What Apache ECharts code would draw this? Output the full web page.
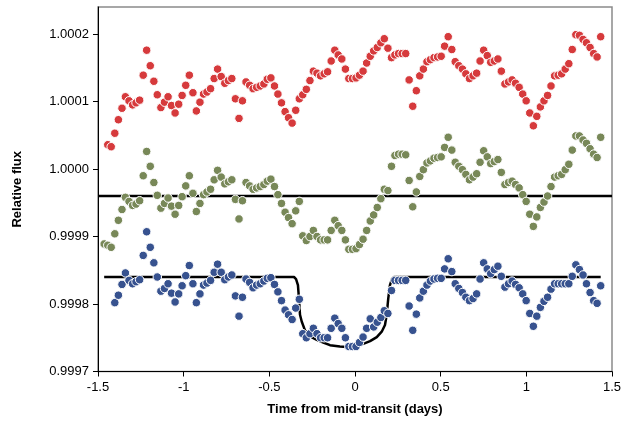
<!DOCTYPE html>
<html>
<head>
<meta charset="utf-8">
<script src="https://cdn.jsdelivr.net/npm/echarts@6/dist/echarts.min.js"></script>
<style>html,body{margin:0;padding:0;background:#fff}#c{width:635px;height:428px}</style>
</head>
<body>
<div id="c"></div>
<script>
// Time from mid-transit (days), one entry per cadence
var time = [-1.464,-1.443,-1.423,-1.402,-1.381,-1.360,-1.340,-1.319,-1.298,-1.278,
-1.257,-1.236,-1.216,-1.195,-1.174,-1.154,-1.133,-1.112,-1.091,-1.071,
-1.050,-1.029,-1.009,-0.988,-0.967,-0.946,-0.926,-0.905,-0.884,-0.864,
-0.843,-0.822,-0.802,-0.781,-0.760,-0.739,-0.719,-0.698,-0.677,-0.657,
-0.636,-0.615,-0.595,-0.574,-0.553,-0.532,-0.512,-0.491,-0.470,-0.450,
-0.429,-0.408,-0.388,-0.367,-0.346,-0.325,-0.305,-0.284,-0.263,-0.243,
-0.222,-0.201,-0.180,-0.160,-0.139,-0.118,-0.098,-0.077,-0.056,-0.036,
-0.015,0.006,0.026,0.047,0.068,0.089,0.109,0.130,0.151,0.171,
0.192,0.213,0.233,0.254,0.275,0.296,0.316,0.337,0.358,0.378,
0.399,0.420,0.440,0.461,0.482,0.503,0.523,0.544,0.565,0.585,
0.606,0.627,0.647,0.668,0.689,0.710,0.730,0.751,0.772,0.792,
0.813,0.834,0.854,0.875,0.896,0.917,0.937,0.958,0.979,0.999,
1.020,1.041,1.061,1.082,1.103,1.124,1.144,1.165,1.186,1.206,
1.227,1.248,1.268,1.289,1.310,1.331,1.351,1.372,1.393,1.413,
1.434];

var redFlux = [null,1.000036,1.000033,1.000053,1.000073,1.000090,1.000107,1.000101,1.000095,1.000098,
1.000102,1.000139,1.000176,1.000153,1.000130,1.000110,1.000091,1.000099,1.000107,1.000094,
1.000083,1.000096,1.000109,1.000124,1.000139,1.000113,1.000086,1.000099,1.000111,1.000114,
1.000119,1.000134,1.000148,1.000137,1.000127,1.000131,1.000134,1.000104,1.000075,1.000101,
1.000129,1.000124,1.000119,1.000121,1.000123,1.000126,1.000133,1.000135,1.000123,1.000111,
1.000098,1.000085,1.000076,1.000068,1.000087,1.000104,1.000110,1.000118,1.000131,1.000145,
1.000142,1.000138,1.000141,1.000144,1.000160,1.000176,1.000169,1.000163,1.000148,1.000134,
1.000134,1.000135,1.000139,1.000145,1.000157,1.000167,1.000175,1.000180,1.000187,1.000193,
1.000179,1.000165,1.000169,1.000171,1.000171,1.000171,1.000132,1.000093,1.000116,1.000138,
1.000148,1.000159,1.000162,1.000165,1.000166,1.000167,1.000182,1.000196,1.000177,1.000159,
1.000153,1.000148,1.000141,1.000134,1.000138,1.000142,1.000160,1.000176,1.000168,1.000158,
1.000160,1.000163,1.000145,1.000126,1.000129,1.000132,1.000127,1.000121,1.000111,1.000101,
1.000083,1.000064,1.000078,1.000092,1.000101,1.000109,1.000123,1.000138,1.000139,1.000141,
1.000148,1.000156,1.000177,1.000199,1.000198,1.000192,1.000187,1.000180,1.000171,1.000166,
1.000196];

var greenFlux = [0.999889,0.999887,0.999884,0.999904,0.999924,0.999940,0.999958,0.999952,0.999946,0.999948,
0.999953,0.999990,1.000026,1.000004,0.999980,0.999961,0.999942,0.999949,0.999957,0.999945,
0.999933,0.999946,0.999959,0.999975,0.999990,0.999964,0.999937,0.999949,0.999962,0.999966,
0.999970,0.999984,0.999998,0.999988,0.999978,0.999981,0.999984,0.999955,0.999926,0.999953,
0.999980,0.999975,0.999970,0.999972,0.999974,0.999977,0.999982,0.999985,0.999974,0.999962,
0.999949,0.999936,0.999928,0.999919,0.999938,0.999952,0.999901,0.999894,0.999900,0.999909,
0.999900,0.999895,0.999895,0.999895,0.999909,0.999924,0.999916,0.999909,0.999895,0.999881,
0.999881,0.999882,0.999888,0.999896,0.999909,0.999923,0.999932,0.999943,0.999956,0.999970,
0.999968,1.000004,1.000020,1.000022,1.000022,1.000021,0.999983,0.999944,0.999966,0.999989,
0.999999,1.000009,1.000012,1.000016,1.000017,1.000018,1.000032,1.000047,1.000028,1.000010,
1.000004,0.999999,0.999992,0.999984,0.999988,0.999993,1.000010,1.000027,1.000018,1.000008,
1.000011,1.000014,0.999995,0.999977,0.999980,0.999982,0.999977,0.999972,0.999962,0.999952,
0.999933,0.999915,0.999929,0.999943,0.999951,0.999960,0.999974,0.999988,0.999990,0.999992,
0.999999,1.000007,1.000028,1.000049,1.000049,1.000043,1.000038,1.000030,1.000022,1.000017,
1.000047];

var blueFlux = [null,null,null,0.999802,0.999813,0.999829,0.999846,0.999835,0.999830,0.999833,
0.999836,0.999872,0.999907,0.999884,0.999861,0.999840,0.999819,0.999823,0.999830,0.999816,
0.999803,0.999815,0.999827,0.999842,0.999857,0.999830,0.999802,0.999815,0.999828,0.999831,
0.999835,0.999847,0.999859,0.999847,0.999836,0.999840,0.999843,0.999812,0.999782,0.999810,
0.999837,0.999832,0.999824,0.999828,0.999830,0.999834,0.999838,0.999839,0.999829,0.999818,
0.999805,0.999791,0.999784,0.999777,0.999794,0.999807,0.999756,0.999750,0.999756,0.999764,
0.999756,0.999750,0.999750,0.999750,0.999764,0.999779,0.999771,0.999764,0.999750,0.999737,
0.999737,0.999737,0.999743,0.999751,0.999764,0.999778,0.999766,0.999773,0.999780,0.999790,
0.999786,0.999820,0.999835,0.999835,0.999835,0.999835,0.999797,0.999761,0.999785,0.999809,
0.999819,0.999828,0.999834,0.999837,0.999838,0.999838,0.999852,0.999867,0.999848,0.999830,
0.999823,0.999817,0.999810,0.999805,0.999808,0.999815,0.999837,0.999861,0.999852,0.999845,
0.999851,0.999856,0.999841,0.999825,0.999830,0.999834,0.999829,0.999824,0.999815,0.999805,
0.999786,0.999767,0.999782,0.999795,0.999804,0.999810,0.999822,0.999830,0.999830,0.999830,
0.999830,0.999830,0.999841,0.999858,0.999851,0.999843,0.999830,0.999817,0.999805,0.999801,
0.999827];

// Transit model drawn through the lower (blue) light curve
var modelTime = [-1.464,-0.356,-0.344,-0.333,-0.327,-0.321,-0.311,-0.292,-0.263,-0.223,-0.185,-0.146,-0.088,-0.029,0.010,0.048,0.088,0.127,0.156,0.175,0.185,0.194,0.204,0.216,0.228,1.434];
var modelFlux = [0.999840,0.999840,0.999837,0.999828,0.999808,0.999784,0.999774,0.999761,0.999752,0.999747,0.999743,0.999739,0.999737,0.999736,0.999738,0.999741,0.999745,0.999751,0.999759,0.999769,0.999784,0.999808,0.999828,0.999837,0.999840,0.999840];

// Flat reference level through the middle (green) light curve
var levelTime = [-1.5, 1.5];
var levelFlux = [0.99996, 0.99996];

var xTicks = [-1.5, -1, -0.5, 0, 0.5, 1, 1.5];
var yTicks = [0.9997, 0.9998, 0.9999, 1.0000, 1.0001, 1.0002];

function pairs(xs, ys) {
  var out = [];
  for (var i = 0; i < ys.length; i++) if (ys[i] !== null) out.push([xs[i], ys[i]]);
  return out;
}

var chart = echarts.init(document.getElementById('c'), null, {renderer: 'canvas'});
var FONT = 'Liberation Sans, Arial, sans-serif';
var mk = function (color) {
  return {color: color, borderColor: '#ffffff', borderWidth: 1, opacity: 1};
};
chart.setOption({
  animation: false,
  backgroundColor: '#ffffff',
  grid: {left: 98, right: 23, top: 7, bottom: 56.5, show: true, borderColor: '#8a8a8a', borderWidth: 1.5, backgroundColor: 'transparent'},
  xAxis: {
    type: 'value', min: -1.5, max: 1.5, interval: 0.5,
    name: 'Time from mid-transit (days)', nameLocation: 'middle', nameGap: 31,
    nameTextStyle: {fontFamily: FONT, fontSize: 13, fontWeight: 'bold', color: '#000'},
    axisLine: {show: true, onZero: false, lineStyle: {color: '#000', width: 1}},
    axisTick: {show: true, inside: false, length: 5, lineStyle: {color: '#000'}, customValues: xTicks},
    axisLabel: {fontFamily: FONT, fontSize: 13, color: '#000', margin: 9, customValues: xTicks,
      formatter: function (v) { return String(Math.round(v * 10) / 10); }},
    splitLine: {show: false}
  },
  yAxis: {
    type: 'value', min: 0.9997, max: 1.00024, interval: 0.0001,
    name: 'Relative flux', nameLocation: 'middle', nameGap: 74, nameRotate: 90,
    nameTextStyle: {fontFamily: FONT, fontSize: 13, fontWeight: 'bold', color: '#000'},
    axisLine: {show: true, onZero: false, lineStyle: {color: '#000', width: 1}},
    axisTick: {show: true, inside: false, length: 5, lineStyle: {color: '#000'}, customValues: yTicks},
    axisLabel: {fontFamily: FONT, fontSize: 13, color: '#000', margin: 9,
      customValues: yTicks,
      formatter: function (v) { return v.toFixed(4); }},
    splitLine: {show: false}
  },
  series: [
    {type: 'line', data: pairs(levelTime, levelFlux), symbol: 'none', z: 1,
     lineStyle: {color: '#000', width: 2.5}, silent: true},
    {type: 'line', data: pairs(modelTime, modelFlux), symbol: 'none', z: 1,
     lineStyle: {color: '#000', width: 2.5}, silent: true},
    {type: 'scatter', data: pairs(time, redFlux), symbol: 'circle', symbolSize: 8.5, z: 3, itemStyle: mk('#d63a3c')},
    {type: 'scatter', data: pairs(time, greenFlux), symbol: 'circle', symbolSize: 8.5, z: 3, itemStyle: mk('#788858')},
    {type: 'scatter', data: pairs(time, blueFlux), symbol: 'circle', symbolSize: 8.5, z: 3, itemStyle: mk('#37528f')}
  ]
});
</script>
</body>
</html>
